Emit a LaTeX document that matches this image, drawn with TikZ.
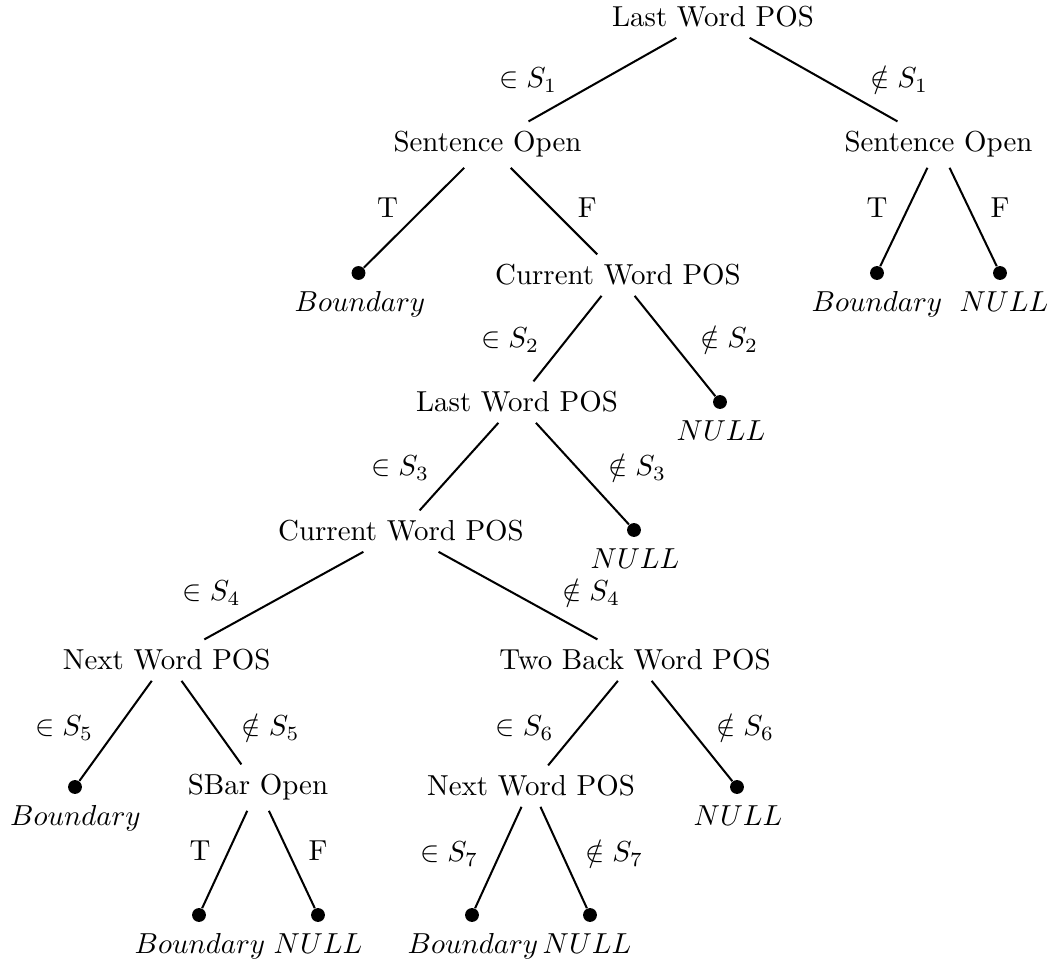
\documentclass[tikz,border=0pt]{standalone}
\begin{document}
\begin{tikzpicture}[x=0.346pt, y=-0.346pt,
  test/.style={anchor=base, inner sep=0.3333em},
  leaftext/.style={anchor=base, inner sep=0.3333em},
  elabel/.style={anchor=base, inner sep=0pt},
  dot/.style={circle, fill=black, inner sep=0pt, minimum size=4.8pt},
  edge/.style={line width=0.7pt}]
\useasboundingbox (0,0) rectangle (1050,964);

% decision nodes
\node[test] (r) at (713,27)   {Last Word POS};
\node[test] (a) at (487.5,152) {Sentence Open};
\node[test] (b) at (938.5,152) {Sentence Open};
\node[test] (c) at (618,285)  {Current Word POS};
\node[test] (d) at (517,412)  {Last Word POS};
\node[test] (e) at (401,541)  {Current Word POS};
\node[test] (f) at (166.7,670) {Next Word POS};
\node[test] (g) at (635,670)  {Two Back Word POS};
\node[test] (h) at (258,795)  {SBar Open};
\node[test] (i) at (531,796)  {Next Word POS};

% leaves
\node[dot] (la)  at (358.5,273) {};
\node[dot] (lb1) at (877,273) {};
\node[dot] (lb2) at (1000,273) {};
\node[dot] (lc)  at (720,402) {};
\node[dot] (ld)  at (634,530) {};
\node[dot] (lf)  at (75,787) {};
\node[dot] (lg)  at (737,787) {};
\node[dot] (lh1) at (199,915) {};
\node[dot] (lh2) at (318,915) {};
\node[dot] (li1) at (472,915) {};
\node[dot] (li2) at (590,915) {};

\node[leaftext] (la-t)  at (360,312) {$Boundary$};
\node[leaftext] (lb1-t) at (877,312) {$Boundary$};
\node[leaftext] (lb2-t) at (1004,312) {$NULL$};
\node[leaftext] (lc-t)  at (721,441) {$NULL$};
\node[leaftext] (ld-t)  at (635,569) {$NULL$};
\node[leaftext] (lf-t)  at (75.5,826) {$Boundary$};
\node[leaftext] (lg-t)  at (738,826) {$NULL$};
\node[leaftext] (lh1-t) at (200,954) {$Boundary$};
\node[leaftext] (lh2-t) at (318,954) {$NULL$};
\node[leaftext] (li1-t) at (473,954) {$Boundary$};
\node[leaftext] (li2-t) at (587,954) {$NULL$};

% branches
\draw[edge] (r) -- (a);
\draw[edge] (r) -- (b);
\draw[edge] (a) -- (la);
\draw[edge] (a) -- (c);
\draw[edge] (b) -- (lb1);
\draw[edge] (b) -- (lb2);
\draw[edge] (c) -- (d);
\draw[edge] (c) -- (lc);
\draw[edge] (d) -- (e);
\draw[edge] (d) -- (ld);
\draw[edge] (e) -- (f);
\draw[edge] (e) -- (g);
\draw[edge] (f) -- (lf);
\draw[edge] (f) -- (h);
\draw[edge] (g) -- (i);
\draw[edge] (g) -- (lg);
\draw[edge] (h) -- (lh1);
\draw[edge] (h) -- (lh2);
\draw[edge] (i) -- (li1);
\draw[edge] (i) -- (li2);

% branch labels
\node[elabel] (s1y) at (528,88)  {$\in S_1$};
\node[elabel] (s1n) at (899,88)  {$\notin S_1$};
\node[elabel] (t1)  at (387.5,218) {T};
\node[elabel] (f1)  at (587.3,218) {F};
\node[elabel] (t2)  at (877,218) {T};
\node[elabel] (f2)  at (1000,218) {F};
\node[elabel] (s2y) at (510,348) {$\in S_2$};
\node[elabel] (s2n) at (729,348) {$\notin S_2$};
\node[elabel] (s3y) at (400,476) {$\in S_3$};
\node[elabel] (s3n) at (637,476) {$\notin S_3$};
\node[elabel] (s4y) at (211.5,601) {$\in S_4$};
\node[elabel] (s4n) at (591,601) {$\notin S_4$};
\node[elabel] (s5y) at (64,736)  {$\in S_5$};
\node[elabel] (s5n) at (270.5,736) {$\notin S_5$};
\node[elabel] (s6y) at (524.5,736) {$\in S_6$};
\node[elabel] (s6n) at (745,736) {$\notin S_6$};
\node[elabel] (t3)  at (200,861) {T};
\node[elabel] (f3)  at (318,861) {F};
\node[elabel] (s7y) at (449,862) {$\in S_7$};
\node[elabel] (s7n) at (614,862) {$\notin S_7$};
\end{tikzpicture}
\end{document}
